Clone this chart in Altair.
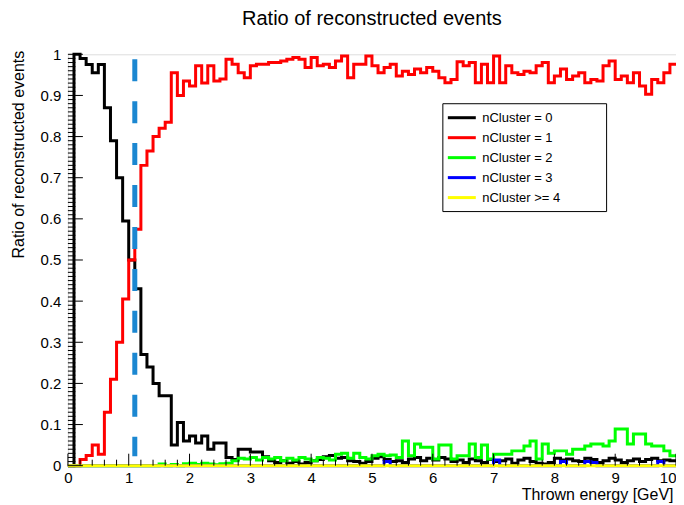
import altair as alt
import pandas as pd

# ---------------- data ----------------
BIN_WIDTH = 0.1   # GeV, 100 bins from 0 to 10 GeV

ncl0 = [0.0, 1.0, 0.99, 0.975, 0.955, 0.975, 0.87, 0.79, 0.70, 0.595,
        0.50, 0.43, 0.27, 0.24, 0.20, 0.17, 0.17, 0.05, 0.105, 0.06,
        0.072, 0.055, 0.072, 0.04, 0.055, 0.055, 0.02, 0.015, 0.04, 0.04,
        0.033, 0.033, 0.022, 0.012, 0.008, 0.012, 0.006, 0.01, 0.004, 0.008,
        0.012, 0.015, 0.022, 0.025, 0.018, 0.02, 0.012, 0.01, 0.006, 0.01,
        0.018, 0.022, 0.015, 0.01, 0.012, 0.008, 0.016, 0.02, 0.012, 0.018,
        0.014, 0.02, 0.016, 0.01, 0.014, 0.008, 0.016, 0.012, 0.008, 0.015,
        0.01, 0.012, 0.016, 0.006, 0.014, 0.018, 0.01, 0.006, 0.004, 0.008,
        0.018, 0.014, 0.016, 0.012, 0.01, 0.018, 0.015, 0.008, 0.012, 0.018,
        0.014, 0.008, 0.012, 0.016, 0.01, 0.015, 0.018, 0.012, 0.014, 0.012]

ncl1 = [0.0, 0.0, 0.015, 0.025, 0.05, 0.028, 0.13, 0.21, 0.30, 0.405,
        0.50, 0.575, 0.73, 0.765, 0.80, 0.82, 0.835, 0.955, 0.90, 0.935,
        0.923, 0.972, 0.93, 0.972, 0.935, 0.94, 0.988, 0.976, 0.955, 0.943,
        0.972, 0.976, 0.976, 0.98, 0.98, 0.984, 0.988, 0.992, 0.988, 0.968,
        0.992, 0.972, 0.976, 0.968, 0.984, 0.996, 0.943, 0.976, 0.976, 0.996,
        0.972, 0.955, 0.968, 0.976, 0.947, 0.959, 0.951, 0.964, 0.955, 0.968,
        0.959, 0.943, 0.931, 0.939, 0.982, 0.972, 0.98, 0.931, 0.976, 0.931,
        0.996, 0.931, 0.972, 0.955, 0.951, 0.959, 0.955, 0.972, 0.98, 0.931,
        0.947, 0.964, 0.939, 0.947, 0.955, 0.931, 0.939, 0.935, 0.972, 0.984,
        0.939, 0.947, 0.931, 0.955, 0.923, 0.903, 0.939, 0.931, 0.955, 0.976]

ncl2 = [0.0, 0.0, 0.0, 0.0, 0.0, 0.0, 0.0, 0.0, 0.0, 0.0,
        0.0, 0.0, 0.0, 0.0, 0.0, 0.004, 0.0, 0.003, 0.0, 0.005,
        0.006, 0.003, 0.006, 0.004, 0.002, 0.005, 0.006, 0.012, 0.018, 0.016,
        0.02, 0.014, 0.02, 0.016, 0.02, 0.012, 0.018, 0.014, 0.02, 0.016,
        0.012, 0.02, 0.018, 0.014, 0.028, 0.03, 0.018, 0.03, 0.02, 0.016,
        0.024, 0.028, 0.024, 0.026, 0.02, 0.06, 0.024, 0.053, 0.045, 0.045,
        0.016, 0.05, 0.05, 0.016, 0.024, 0.024, 0.053, 0.02, 0.05, 0.016,
        0.028, 0.028, 0.028, 0.036, 0.036, 0.048, 0.06, 0.016, 0.053, 0.03,
        0.036, 0.036, 0.028, 0.04, 0.04, 0.048, 0.053, 0.053, 0.048, 0.06,
        0.089, 0.089, 0.053, 0.077, 0.077, 0.053, 0.048, 0.048, 0.036, 0.024]

ncl3 = [0.0, 0.0, 0.0, 0.0, 0.0, 0.0, 0.0, 0.0, 0.0, 0.0,
        0.0, 0.0, 0.0, 0.0, 0.0, 0.0, 0.0, 0.0, 0.0, 0.0,
        0.0, 0.0, 0.0, 0.0, 0.0, 0.0, 0.0, 0.0, 0.0, 0.0,
        0.0, 0.0, 0.0, 0.0, 0.0, 0.0, 0.0, 0.0, 0.0, 0.0,
        0.0, 0.0, 0.0, 0.0, 0.0, 0.0, 0.0, 0.0, 0.0, 0.0,
        0.0, 0.0, 0.01, 0.0, 0.0, 0.0, 0.0, 0.0, 0.0, 0.0,
        0.0, 0.0, 0.0, 0.0, 0.0, 0.0, 0.0, 0.0, 0.0, 0.0,
        0.014, 0.0, 0.0, 0.0, 0.0, 0.0, 0.0, 0.0, 0.0, 0.0,
        0.0, 0.01, 0.0, 0.0, 0.0, 0.01, 0.008, 0.0, 0.0, 0.0,
        0.0, 0.0, 0.0, 0.0, 0.0, 0.0, 0.0, 0.01, 0.0, 0.0]

ncl4 = [0.0] * 100

series_values = [ncl0, ncl1, ncl2, ncl3, ncl4]
series_labels = ["nCluster = 0", "nCluster = 1", "nCluster = 2",
                 "nCluster = 3", "nCluster >= 4"]
series_colors = ["#000000", "#ff0000", "#00ff00", "#0000ff", "#ffff00"]

cut_energy = [1.1]
cut_top = [0.988]
cut_bottom = [0.023]

x_major_ticks = [0, 1, 2, 3, 4, 5, 6, 7, 8, 9, 10]
y_major_ticks = [0, 0.1, 0.2, 0.3, 0.4, 0.5, 0.6, 0.7, 0.8, 0.9, 1]

# ---------------- layout ----------------
W, H = 609, 412
FONT = "Liberation Sans"

x_scale = alt.Scale(domain=[0, 10], nice=False, zero=False)
y_scale = alt.Scale(domain=[0, 1], nice=False, zero=False)

legend = alt.Legend(
    title="\u00a0", titleOrient="right", titlePadding=40, titleFontSize=2,
    orient="none", legendX=375, legendY=49,
    strokeColor="#000000", fillColor="#ffffff", padding=6, cornerRadius=0,
    symbolType="M-2,0H2", symbolSize=196, symbolStrokeWidth=3,
    symbolOffset=5, labelOffset=12, rowPadding=4,
    labelFont=FONT, labelFontSize=13, labelColor="#000000",
)

color = alt.Color("series:N",
                  scale=alt.Scale(domain=series_labels, range=series_colors),
                  legend=legend)

x_axis = alt.Axis(values=x_major_ticks, format="d", ticks=False,
                  domain=False, grid=False, labelFlush=False,
                  labelAlign=alt.condition("datum.value == 10",
                                           alt.value("right"),
                                           alt.value("center")),
                  labelFont=FONT, labelFontSize=15,
                  labelColor="#000000", labelPadding=5,
                  title="Thrown energy [GeV]", titleFont=FONT, titleFontSize=16,
                  titleFontWeight="normal", titleColor="#000000",
                  titleAlign="right", titleX=W - 3, titleY=34,
                  titleBaseline="alphabetic")
y_axis = alt.Axis(values=y_major_ticks, format="~g", ticks=False,
                  domain=False, grid=False, labelFlush=False,
                  labelFont=FONT, labelFontSize=15,
                  labelColor="#000000", labelPadding=7,
                  title="Ratio of reconstructed events", titleFont=FONT,
                  titleFontSize=16, titleFontWeight="normal",
                  titleColor="#000000", titleAngle=-90, titleAlign="right",
                  titleX=-44, titleY=-4, titleBaseline="alphabetic")

layers = []

# histograms (drawn in ROOT order: 0, 1, 2, 3, >=4)
for k, (lab, vals) in enumerate(zip(series_labels, series_values)):
    n = len(vals)
    df = pd.DataFrame({
        "E": [i * BIN_WIDTH for i in range(n + 1)],
        "ratio": list(vals) + [vals[-1]],
        "idx": list(range(n + 1)),
        "series": [lab] * (n + 1),
    })
    layers.append(
        alt.Chart(df).mark_line(interpolate="step-after", strokeWidth=3,
                                clip=False).encode(
            x=alt.X("E:Q", scale=x_scale, axis=x_axis),
            y=alt.Y("ratio:Q", scale=y_scale, axis=y_axis),
            color=color,
            order="idx:Q",
        )
    )

# inward ticks (ROOT style)
x_minor = [round(0.2 * i, 1) for i in range(51) if i % 5 != 0]
y_minor = [round(0.01 * i, 2) for i in range(101) if i % 10 != 0]

def xticks(vals, length):
    return alt.Chart(pd.DataFrame({"E": vals})).mark_rule(
        color="#000000", strokeWidth=1).encode(
        x=alt.X("E:Q", scale=x_scale, axis=x_axis),
        y=alt.value(H), y2=alt.value(H - length))

def yticks(vals, length):
    return alt.Chart(pd.DataFrame({"ratio": vals})).mark_rule(
        color="#000000", strokeWidth=1).encode(
        y=alt.Y("ratio:Q", scale=y_scale, axis=y_axis),
        x=alt.value(0), x2=alt.value(length))

layers += [xticks(x_major_ticks, 12), xticks(x_minor, 6),
           yticks(y_major_ticks, 15), yticks(y_minor, 7.5)]

# dashed cut line
cut_df = pd.DataFrame({"E": cut_energy, "ratio": cut_top, "bottom": cut_bottom})
layers.append(
    alt.Chart(cut_df).mark_rule(color="#1b87d1", strokeWidth=5,
                                strokeDash=[22, 20]).encode(
        x=alt.X("E:Q", scale=x_scale, axis=x_axis),
        y=alt.Y("ratio:Q", scale=y_scale, axis=y_axis),
        y2="bottom:Q")
)

chart = alt.layer(*layers).properties(
    width=W, height=H,
    autosize=alt.AutoSizeParams(type="none"),
    padding={"left": 60, "top": 46, "right": 0, "bottom": 37},
    title=alt.TitleParams("Ratio of reconstructed events", font=FONT,
                          fontSize=20, fontWeight="normal", color="#000000",
                          anchor="middle", offset=18),
).configure_view(stroke="#222222", strokeWidth=1).configure(background="white")

chart.save("out.html", embed_options={"renderer": "svg", "actions": False})
